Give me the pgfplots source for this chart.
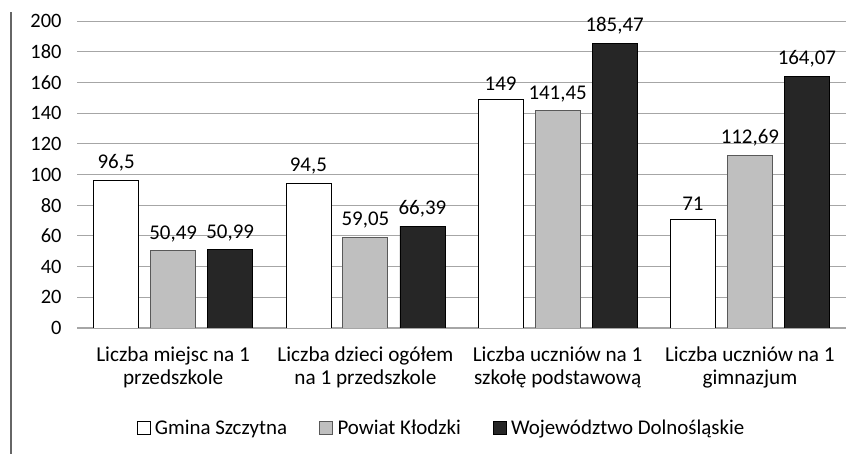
\documentclass[border=0pt]{standalone}
\usepackage{pgfplots}
\pgfplotsset{compat=1.18}
\usepackage{fontspec}
\setmainfont{Carlito}
\definecolor{cgray}{HTML}{BFBFBF}
\definecolor{cdark}{HTML}{262626}
\definecolor{cgrid}{HTML}{A6A6A6}
\begin{document}
\begin{tikzpicture}[x=1bp,y=1bp]
\path[use as bounding box] (0,0) rectangle (858,454);
\draw[draw=gray!80!black,line width=1.4bp] (11,0) -- (11,442);
\begin{axis}[
  at={(77bp,126bp)}, anchor=south west,
  scale only axis, width=769bp, height=307bp,
  xmin=-0.5, xmax=3.5, ymin=0, ymax=200,
  ytick={0,20,...,200},
  xtick={0,1,2,3},
  xticklabels={{Liczba miejsc na 1\\przedszkole},{Liczba dzieci ogółem\\na 1 przedszkole},{Liczba uczniów na 1\\szkołę podstawową},{Liczba uczniów na 1\\gimnazjum}},
  xticklabel style={align=center, font=\fontsize{21.3}{23.5}\selectfont, yshift=-15bp},
  yticklabel style={font=\fontsize{20.5}{22}\selectfont, xshift=-12bp},
  major tick length=0pt,
  axis line style={draw=none},
  ymajorgrids, grid style={cgrid, line width=0.9bp},
  extra y ticks={0}, extra y tick labels={},
  extra y tick style={grid style={cgrid,line width=1bp}},
  /pgf/number format/.cd, use comma, 1000 sep={}, assume math mode=true,
  /pgfplots/.cd,
  ybar, bar width=0.234,
  nodes near coords,
  every node near coord/.append style={font=\fontsize{21}{22}\selectfont, black, yshift=5bp},
  legend style={at={(0.474,-0.326)}, anchor=center, draw=none, legend columns=3,
    font=\fontsize{21}{22}\selectfont, inner sep=0pt,
    /tikz/every even column/.append style={column sep=30bp}},
  legend image code/.code={\path[draw=none,fill=none] (0bp,0bp) -- (16bp,0bp);\draw[#1,line width=0.6bp] (0bp,-6bp) rectangle (13bp,7bp);},
]
\addplot[fill=white, draw=black, line width=0.7bp, bar shift=-0.2965] coordinates {(0,96.5) (1,94.5) (2,149) (3,71)};
\addplot[fill=cgray, draw=gray!70!black, line width=0.9bp, bar shift=0] coordinates {(0,50.49) (1,59.05) (2,141.45) (3,112.69)};
\addplot[fill=cdark, draw=black, line width=0.7bp, bar shift=0.2965] coordinates {(0,50.99) (1,66.39) (2,185.47) (3,164.07)};
\legend{Gmina Szczytna, Powiat Kłodzki, Województwo Dolnośląskie}
\end{axis}
\end{tikzpicture}
\end{document}
